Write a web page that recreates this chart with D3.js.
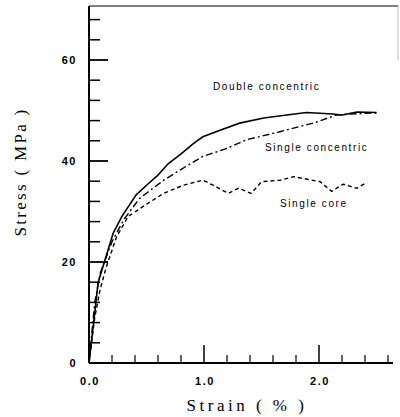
<!DOCTYPE html>
<html>
<head>
<meta charset="utf-8">
<script src="https://cdn.jsdelivr.net/npm/d3@7"></script>
<style>
 body { margin: 0; background: #fff; }
 .tick-label { font-family: "Liberation Sans", Arial, sans-serif; font-weight: bold; font-size: 11px; letter-spacing: 1.5px; }
 .axis-title { font-family: "Liberation Serif", "Times New Roman", serif; font-size: 17px; }
 .curve-label { font-family: "Liberation Sans", Arial, sans-serif; font-size: 10px; letter-spacing: 1.6px; }
</style>
</head>
<body>
<svg id="mainContainer"></svg>
<script>
/* global d3 */

// strain (%) / stress (MPa)
var doubleStrain = [0, 0.08, 0.21, 0.285, 0.41, 0.52, 0.60, 0.69, 0.79, 0.91, 0.99, 1.14, 1.31, 1.52, 1.72, 1.89, 2.12, 2.20, 2.33, 2.50];
var doubleStress = [0, 16, 25.7, 29, 33.3, 35.6, 37.2, 39.5, 41.2, 43.5, 44.8, 46.1, 47.5, 48.5, 49.1, 49.6, 49.3, 49.1, 49.7, 49.6];

var singleStrain = [0, 0.05, 0.10, 0.20, 0.30, 0.44, 0.65, 0.79, 0.99, 1.20, 1.37, 1.66, 1.95, 2.15, 2.35, 2.50];
var singleStress = [0, 12, 18, 24, 28.3, 32.6, 36.2, 38.2, 40.9, 42.5, 44.2, 45.8, 47.5, 49.1, 49.4, 49.5];

var coreStrain = [0, 0.05, 0.096, 0.15, 0.24, 0.34, 0.49, 0.65, 0.82, 0.99, 1.08, 1.21, 1.30, 1.41, 1.50, 1.66, 1.78, 2.01, 2.11, 2.21, 2.33, 2.41];
var coreStress = [0, 9, 14.5, 19, 25, 29, 31.3, 33.6, 35.2, 36.2, 35.2, 33.6, 34.6, 33.6, 35.9, 36.2, 36.9, 35.9, 34, 35.4, 34.6, 35.7];

var seriesNames = ["Double concentric", "Single concentric", "Single core"];

var xMajor = [0, 1, 2];
var xMajorLabels = ["0.0", "1.0", "2.0"];
var yMajor = [0, 20, 40, 60];
var yMajorLabels = ["0", "20", "40", "60"];

var svgWidth = 400;
var svgHeight = 417;

var svg = d3.select('#mainContainer')
    .attr('width', svgWidth)
    .attr('height', svgHeight);

var x = d3.scaleLinear().domain([0, 2.6]).range([89, 388]);
var y = d3.scaleLinear().domain([0, 70]).range([363, 9.5]);

var g = svg.append('g');

// axis lines
g.append('line').attr('x1', x(0)).attr('x2', x(0)).attr('y1', y(0)).attr('y2', 6)
    .attr('stroke', 'black').attr('stroke-width', 2);
g.append('line').attr('x1', x(0)).attr('x2', 393).attr('y1', y(0)).attr('y2', y(0))
    .attr('stroke', 'black').attr('stroke-width', 2);
g.append('line').attr('x1', x(0)).attr('x2', 398).attr('y1', 6).attr('y2', 6)
    .attr('stroke', 'black').attr('stroke-width', 1.2);
g.append('line').attr('x1', 398).attr('x2', 398).attr('y1', 6).attr('y2', 60)
    .attr('stroke', '#aaa').attr('stroke-width', 0.8);

// y ticks (inward)
g.selectAll('.ytick').data(d3.range(4, 70, 4).filter(function(d){ return yMajor.indexOf(d) < 0; }))
    .enter().append('line')
    .attr('x1', x(0)).attr('x2', x(0) + 11)
    .attr('y1', function(d){ return y(d); }).attr('y2', function(d){ return y(d); })
    .attr('stroke', 'black').attr('stroke-width', 1.5);
g.selectAll('.ytickMajor').data(yMajor.slice(1))
    .enter().append('line')
    .attr('x1', x(0)).attr('x2', x(0) + 19)
    .attr('y1', function(d){ return y(d); }).attr('y2', function(d){ return y(d); })
    .attr('stroke', 'black').attr('stroke-width', 1.8);

g.selectAll('.ylabel').data(yMajor)
    .enter().append('text')
    .attr('class', 'tick-label')
    .attr('x', x(0) - 12)
    .attr('y', function(d){ return y(d) + 4; })
    .attr('text-anchor', 'end')
    .text(function(d, i){ return yMajorLabels[i]; });

// x ticks (inward)
g.selectAll('.xtick').data(d3.range(0.2, 2.61, 0.2).filter(function(d){ return Math.abs(d - 1) > 0.01 && Math.abs(d - 2) > 0.01; }))
    .enter().append('line')
    .attr('x1', function(d){ return x(d); }).attr('x2', function(d){ return x(d); })
    .attr('y1', y(0)).attr('y2', y(0) - 8)
    .attr('stroke', 'black').attr('stroke-width', 1.2);
g.selectAll('.xtickMajor').data(xMajor.slice(1))
    .enter().append('line')
    .attr('x1', function(d){ return x(d); }).attr('x2', function(d){ return x(d); })
    .attr('y1', y(0)).attr('y2', y(0) - 18)
    .attr('stroke', 'black').attr('stroke-width', 1.5);

g.selectAll('.xlabel').data(xMajor)
    .enter().append('text')
    .attr('class', 'tick-label')
    .attr('x', function(d){ return x(d) + 1; })
    .attr('y', 385)
    .attr('text-anchor', 'middle')
    .text(function(d, i){ return xMajorLabels[i]; });

// axis titles
g.append('text').attr('class', 'axis-title')
    .attr('x', 247).attr('y', 411).attr('text-anchor', 'middle')
    .style('letter-spacing', '3.5px')
    .text('Strain ( % )');
g.append('text').attr('class', 'axis-title')
    .attr('transform', 'translate(26,172) rotate(-90)')
    .attr('text-anchor', 'middle')
    .style('letter-spacing', '2.3px')
    .text('Stress ( MPa )');

// curves
var line = d3.line()
    .x(function(d){ return x(d[0]); })
    .y(function(d){ return y(d[1]); });

function pairs(xs, ys){ return xs.map(function(v, i){ return [v, ys[i]]; }); }

g.append('path').datum(pairs(doubleStrain, doubleStress))
    .attr('d', line).attr('fill', 'none').attr('stroke', 'black').attr('stroke-width', 1.6);
g.append('path').datum(pairs(singleStrain, singleStress))
    .attr('d', line).attr('fill', 'none').attr('stroke', 'black').attr('stroke-width', 1.4)
    .attr('stroke-dasharray', '7,3,2,3');
g.append('path').datum(pairs(coreStrain, coreStress))
    .attr('d', line).attr('fill', 'none').attr('stroke', 'black').attr('stroke-width', 1.4)
    .attr('stroke-dasharray', '4,3');

// curve labels
var labelPos = [[213, 90], [265, 151], [280, 207]];
g.selectAll('.curve-label').data(seriesNames)
    .enter().append('text')
    .attr('class', 'curve-label')
    .attr('x', function(d, i){ return labelPos[i][0]; })
    .attr('y', function(d, i){ return labelPos[i][1]; })
    .text(function(d){ return d; });
</script>
</body>
</html>
